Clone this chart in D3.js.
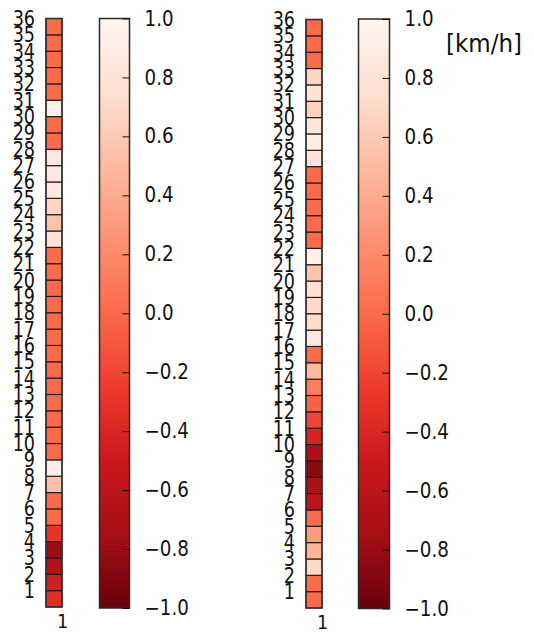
<!DOCTYPE html>
<html>
<head>
<meta charset="utf-8">
<script src="https://cdn.jsdelivr.net/npm/d3@7"></script>
<style>
  html, body { margin: 0; padding: 0; background: #fff; }
  svg { display: block; }
  text { font-family: "DejaVu Sans", sans-serif; fill: #111; }
</style>
</head>
<body>
<svg id="chart" width="534" height="634"></svg>
<script>
// Row labels (bottom to top) and one value per row for each column
const rowLabels = d3.range(1, 37);
const colLabels = [1];
const leftValues = [
  -0.35, -0.45, -0.68, -0.78, -0.30, 0.00, 0.00, 0.55, 0.93, 0.00,
   0.00,  0.00,  0.00,  0.00,  0.00, 0.00, 0.00, 0.00, 0.00, 0.00,
   0.00,  0.00,  0.80,  0.55,  0.68, 0.85, 0.85, 0.85, 0.00, 0.00,
   0.95,  0.00,  0.00,  0.00,  0.00, 0.00
];
const rightValues = [
   0.00,  0.00,  0.70,  0.45,  0.30, 0.00, -0.60, -0.72, -0.85, -0.70,
  -0.42, -0.20, -0.04,  0.12,  0.50, 0.00,  0.85,  0.72,  0.70,  0.75,
   0.55,  0.95,  0.00,  0.00,  0.00, 0.00,  0.00,  0.80,  0.90,  0.82,
   0.65,  0.78,  0.68,  0.00,  0.00, 0.00
];
const colorbarTicks = [-1.0, -0.8, -0.6, -0.4, -0.2, 0.0, 0.2, 0.4, 0.6, 0.8, 1.0];
const unitLabel = "[km/h]";

// Reversed "Reds" palette, linear between the nine ColorBrewer stops
const redsStops = ["#fff5f0", "#fee0d2", "#fcbba1", "#fc9272", "#fb6a4a",
                   "#ef3b2c", "#cb181d", "#a50f15", "#67000d"];
const color = d3.scaleLinear()
  .domain(d3.range(9).map(i => 1 - i * 0.25))
  .range(redsStops)
  .interpolate(d3.interpolateRgb)
  .clamp(true);

const svg = d3.select("#chart");
const fmt = v => (v < 0 ? "\u2212" : "") + Math.abs(v).toFixed(1);

function heatColumn(values, x0, x1, top, bottom) {
  const g = svg.append("g");
  const x = d3.scaleLinear().domain([0, colLabels.length]).range([x0, x1]);
  const y = d3.scaleLinear().domain([0, rowLabels.length]).range([bottom, top]);

  g.selectAll("rect.cell")
    .data(rowLabels)
    .join("rect")
    .attr("class", "cell")
    .attr("x", x(0))
    .attr("width", x(1) - x(0))
    .attr("y", d => y(d))
    .attr("height", d => y(d - 1) - y(d))
    .attr("fill", (d, i) => color(values[i]))
    .attr("stroke", "#1a1a1a")
    .attr("stroke-width", 1.1);

  // frame
  g.append("rect")
    .attr("x", x(0)).attr("y", y(rowLabels.length))
    .attr("width", x(1) - x(0)).attr("height", y(0) - y(rowLabels.length))
    .attr("fill", "none").attr("stroke", "#333").attr("stroke-width", 1.5);

  // row labels sit on the upper edge of each cell
  const ay = d3.axisLeft(y).tickValues(rowLabels).tickSize(0).tickPadding(11)
    .tickFormat(d3.format("d"));
  const axY = g.append("g").attr("transform", `translate(${x(0)},0)`).call(ay);
  axY.select(".domain").remove();
  axY.selectAll("text")
    .style("font-size", "17.6px")
    .attr("fill", "#111")
    .attr("transform", "scale(1,1.24)");

  const ax = d3.axisBottom(x).tickValues(colLabels).tickSize(0).tickPadding(6)
    .tickFormat(d3.format("d"));
  const axX = g.append("g").attr("transform", `translate(0,${y(0)})`).call(ax);
  axX.select(".domain").remove();
  axX.selectAll("text")
    .style("font-size", "17.6px")
    .attr("fill", "#111")
    .attr("transform", "scale(1,1.12)");
}

let gradCount = 0;
function colorbar(x0, x1, top, bottom) {
  const id = "cb" + (gradCount++);
  const grad = svg.append("defs").append("linearGradient")
    .attr("id", id).attr("x1", 0).attr("y1", 1).attr("x2", 0).attr("y2", 0);
  const dom = color.domain().slice().reverse();
  grad.selectAll("stop")
    .data(dom)
    .join("stop")
    .attr("offset", d => (d + 1) / 2)
    .attr("stop-color", d => color(d));

  const s = d3.scaleLinear().domain([-1, 1]).range([bottom, top]);
  const g = svg.append("g");
  g.append("rect")
    .attr("x", x0).attr("y", s(1)).attr("width", x1 - x0).attr("height", s(-1) - s(1))
    .attr("fill", `url(#${id})`).attr("stroke", "#2a2a2a").attr("stroke-width", 1.5);

  const ax = d3.axisRight(s).tickValues(colorbarTicks).tickSize(-7).tickPadding(15)
    .tickFormat(fmt);
  const a = g.append("g").attr("transform", `translate(${x1},0)`).call(ax);
  a.select(".domain").remove();
  a.selectAll("line").attr("stroke", "#111").attr("stroke-width", 1);
  a.selectAll("text")
    .style("font-size", "18.3px")
    .attr("fill", "#111")
    .attr("transform", "scale(1,1.12)");
}

heatColumn(leftValues, 46, 62, 18.5, 607);
colorbar(99.5, 129.5, 18.5, 608);
heatColumn(rightValues, 306, 322, 19.5, 608);
colorbar(358.5, 389.5, 19, 608.5);

svg.append("text")
  .attr("x", 446)
  .attr("y", 0)
  .attr("transform", "translate(0,52) scale(1,1.1)")
  .style("font-size", "23px")
  .text(unitLabel);
</script>
</body>
</html>
